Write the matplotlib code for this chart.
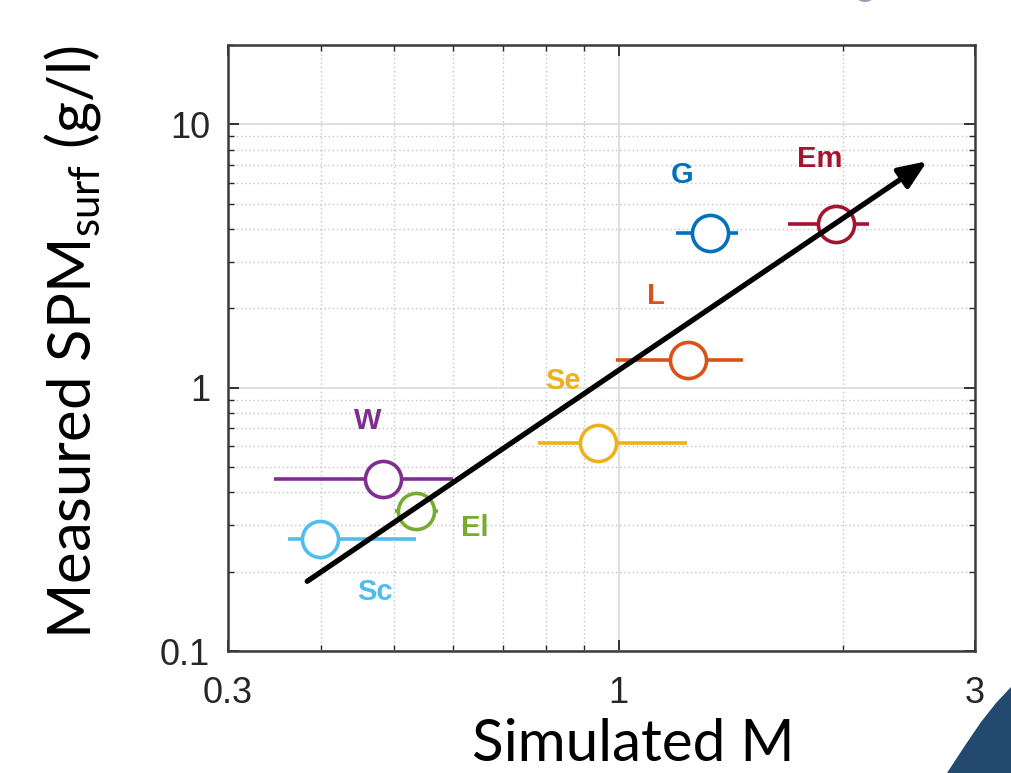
import numpy as np
import matplotlib
matplotlib.use("Agg")
import matplotlib.pyplot as plt
from matplotlib.ticker import FixedLocator, NullFormatter, FixedFormatter
from matplotlib.patches import Polygon, Ellipse

plt.rcParams['font.family'] = ['Liberation Sans', 'DejaVu Sans']
plt.rcParams['mathtext.fontset'] = 'custom'
plt.rcParams['mathtext.rm'] = 'Lato'
plt.rcParams['mathtext.it'] = 'Lato:italic'

# data
sites = ['Sc', 'W', 'El', 'Se', 'L', 'G', 'Em']
sim_m = [0.398, 0.484, 0.536, 0.938, 1.238, 1.327, 1.954]
spm = [0.266, 0.448, 0.340, 0.617, 1.269, 3.855, 4.17]
m_low = [0.361, 0.346, 0.502, 0.780, 0.991, 1.194, 1.684]
m_high = [0.535, 0.600, 0.573, 1.235, 1.469, 1.444, 2.166]

# style
colors = ['#4DBEEE', '#7E2F8E', '#77AC30', '#EDB120', '#D95319', '#0072BD', '#A2142F']
label_xy = [(0.472, 0.167), (0.462, 0.745), (0.642, 0.294), (0.842, 1.057),
            (1.123, 2.22), (1.218, 6.41), (1.861, 7.41)]
arrow_start = (0.383, 0.184)
arrow_end = (2.59, 7.24)

fig = plt.figure(figsize=(10.12, 7.73), dpi=100)
ax = fig.add_axes([0.2253, 0.1578, 0.738, 0.784])
ax.set_xscale('log')
ax.set_yscale('log')
ax.set_xlim(0.3, 3)
ax.set_ylim(0.1, 20)

for i in range(len(sites)):
    xerr = [[sim_m[i] - m_low[i]], [m_high[i] - sim_m[i]]]
    ax.errorbar(sim_m[i], spm[i], xerr=xerr, fmt='none', ecolor=colors[i],
                elinewidth=2.6, capsize=0, zorder=3)
    ax.plot(sim_m[i], spm[i], 'o', ms=26, mfc='white', mec=colors[i],
            mew=2.6, zorder=4)
    ax.text(label_xy[i][0], label_xy[i][1], sites[i], color=colors[i],
            fontsize=21, fontweight='bold', ha='center', va='center', zorder=5)

ax.annotate('', xy=arrow_end, xytext=arrow_start,
            arrowprops=dict(arrowstyle='-|>,head_length=0.85,head_width=0.35',
                            color='black', lw=3.8, mutation_scale=20,
                            shrinkA=0, shrinkB=0),
            zorder=6)

# ticks
ax.xaxis.set_major_locator(FixedLocator([0.3, 1, 3]))
ax.xaxis.set_major_formatter(FixedFormatter(['0.3', '1', '3']))
ax.xaxis.set_minor_locator(FixedLocator([0.4, 0.5, 0.6, 0.7, 0.8, 0.9, 2]))
ax.xaxis.set_minor_formatter(NullFormatter())
ax.yaxis.set_major_locator(FixedLocator([0.1, 1, 10]))
ax.yaxis.set_major_formatter(FixedFormatter(['0.1', '1', '10']))
yminor = [k * 0.1 for k in range(2, 10)] + list(range(2, 10)) + [20]
ax.yaxis.set_minor_locator(FixedLocator(yminor))
ax.yaxis.set_minor_formatter(NullFormatter())

ax.tick_params(which='both', direction='in', top=True, right=True,
               colors='#262626', labelsize=26)
ax.tick_params(which='major', length=8, width=1.3)
ax.tick_params(which='minor', length=4, width=1.0)
ax.tick_params(axis='x', which='major', pad=18)
ax.tick_params(axis='y', which='major', pad=13)

ax.grid(True, which='major', color='#dcdcdc', lw=1.3, ls='-', zorder=0)
ax.grid(True, which='minor', color='#c4c4c4', lw=1.0, ls=(0, (1, 2)), zorder=0)
ax.set_axisbelow(True)
for sp in ax.spines.values():
    sp.set_color('#3a3a3a')
    sp.set_linewidth(1.8)

ax.set_xlabel('Simulated M', fontsize=42, family='Lato')
ax.xaxis.set_label_coords(0.543, -0.11, transform=ax.transAxes)
ax.xaxis.label.set_va('top')
ax.set_ylabel(r'Measured SPM$_{\mathrm{surf}}$ (g/l)', fontsize=43, family='Lato')
ax.yaxis.set_label_coords(-0.168, 0.51)

# slide background bits
W, H = 1012, 773
tri = [(947, 773), (964, 747), (981, 722), (996, 703), (1012, 686), (1012, 773)]
fig.patches.append(Polygon([(x / W, 1 - y / H) for x, y in tri], closed=True,
                           transform=fig.transFigure, facecolor='#234a6e',
                           edgecolor='none'))
fig.patches.append(Ellipse((865 / W, 1 + 10 / H), 24 / W, 24 / H,
                           transform=fig.transFigure, facecolor='#8fa3b8',
                           edgecolor='none'))

fig.savefig('out.png', dpi=100)
